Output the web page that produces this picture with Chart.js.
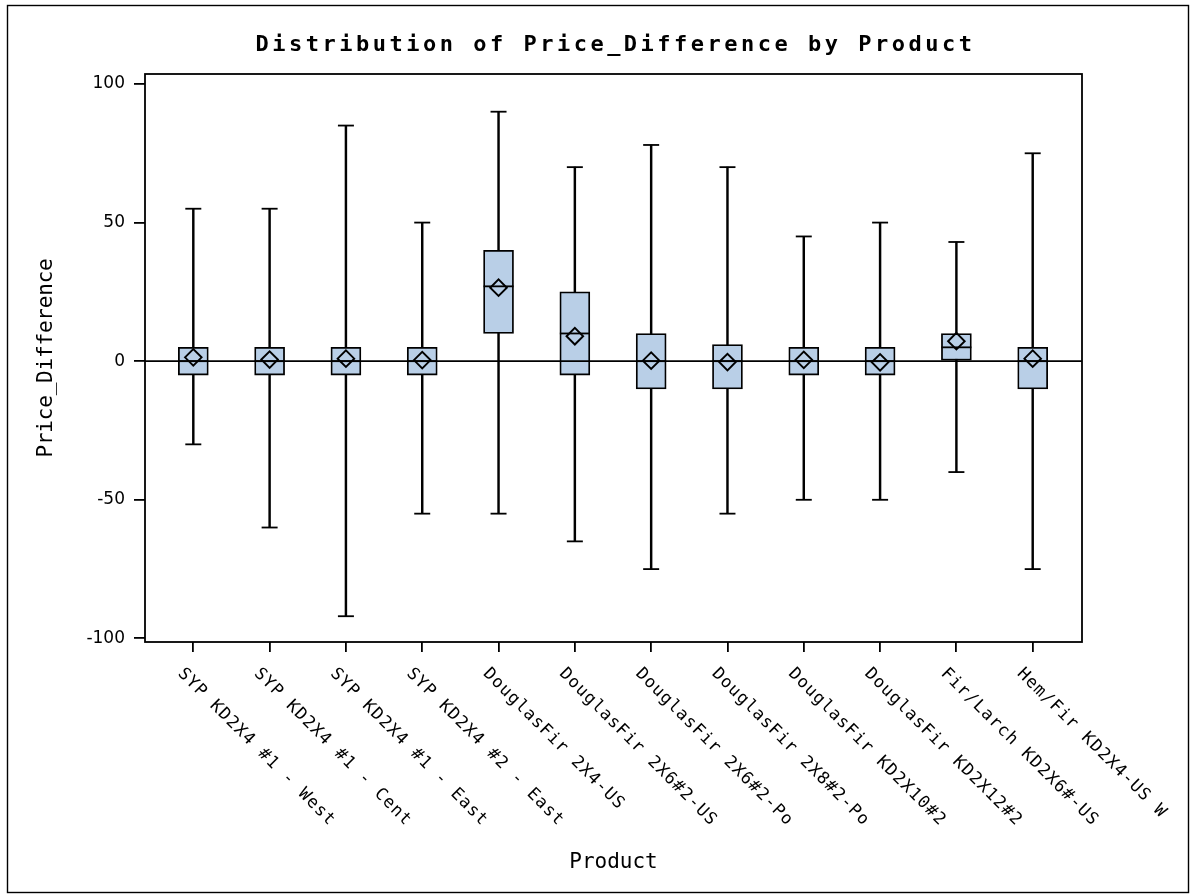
<!DOCTYPE html>
<html>
<head>
<meta charset="utf-8">
<script src="https://cdn.jsdelivr.net/npm/chart.js@4.4.1/dist/chart.umd.min.js"></script>
<style>
  html, body { margin: 0; padding: 0; background: #ffffff; }
  #wrap { position: relative; width: 1195px; height: 895px; }
</style>
</head>
<body>
<div id="wrap"><canvas id="c"></canvas></div>
<script>
// Box plot summary of Price_Difference for each product
const products = [
  'SYP KD2X4 #1 - West',
  'SYP KD2X4 #1 - Cent',
  'SYP KD2X4 #1 - East',
  'SYP KD2X4 #2 - East',
  'DouglasFir 2X4-US',
  'DouglasFir 2X6#2-US',
  'DouglasFir 2X6#2-Po',
  'DouglasFir 2X8#2-Po',
  'DouglasFir KD2X10#2',
  'DouglasFir KD2X12#2',
  'Fir/Larch KD2X6#-US',
  'Hem/Fir KD2X4-US W'
];
const whiskerLow  = [-30, -60, -92, -55, -55, -65, -75, -55, -50, -50, -40, -75];
const q1          = [ -5,  -5,  -5,  -5,  10,  -5, -10, -10,  -5,  -5,   0, -10];
const median      = [  0,   0,   0,   0,  27,  10,   0,   0,   0,   0,   5,   0];
const q3          = [  5,   5,   5,   5,  40,  25,  10,   6,   5,   5,  10,   5];
const whiskerHigh = [ 55,  55,  85,  50,  90,  70,  78,  70,  45,  50,  43,  75];
const means       = [1.4, 0.6, 0.9, 0.4, 26.5, 9.0, 0.2, -0.3, 0.5, -0.4, 7.2, 0.9];

const yTickValues = [-100, -50, 0, 50, 100];
const referenceValue = 0;

const titleText = 'Distribution of Price_Difference by Product';
const xTitle = 'Product';
const yTitle = 'Price_Difference';

const boxFill = 'rgb(185,207,231)';
const ink = '#000000';
const lw = 1.8;

const idx = products.map((_, i) => i);

const textPlugin = {
  id: 'sasText',
  afterDatasetsDraw(chart) {
    const { ctx, chartArea: a, scales } = chart;
    ctx.save();
    ctx.strokeStyle = ink;
    ctx.lineWidth = lw;
    // reference line at zero
    const y0 = scales.y.getPixelForValue(referenceValue);
    ctx.beginPath();
    ctx.moveTo(a.left, y0);
    ctx.lineTo(a.right, y0);
    ctx.stroke();
    // plot frame
    ctx.strokeRect(a.left, a.top, a.right - a.left, a.bottom - a.top);
    ctx.restore();
  },
  afterDraw(chart) {
    const { ctx, chartArea: a, scales } = chart;
    const cx = (a.left + a.right) / 2;
    const cy = (a.top + a.bottom) / 2;
    ctx.save();
    // page border
    ctx.strokeStyle = ink;
    ctx.lineWidth = 1.4;
    ctx.strokeRect(7.5, 5.5, 1181, 887);

    ctx.fillStyle = ink;
    // title
    ctx.font = 'bold 22px "DejaVu Sans Mono"';
    ctx.letterSpacing = '3.5px';
    ctx.textAlign = 'center';
    ctx.textBaseline = 'alphabetic';
    ctx.fillText(titleText, cx + 2, 51);

    // axis titles
    ctx.font = '21px "DejaVu Sans Mono"';
    ctx.letterSpacing = '0px';
    ctx.fillText(xTitle, cx, 868);
    ctx.save();
    ctx.translate(51.5, cy);
    ctx.rotate(-Math.PI / 2);
    ctx.letterSpacing = '-0.2px';
    ctx.fillText(yTitle, 0, 0);
    ctx.restore();

    // slanted category labels
    ctx.font = '17px "DejaVu Sans Mono"';
    ctx.letterSpacing = '1.1px';
    ctx.textAlign = 'left';
    ctx.textBaseline = 'middle';
    products.forEach((p, i) => {
      const x = scales.x.getPixelForValue(i);
      ctx.save();
      ctx.translate(x - 13, a.bottom + 29);
      ctx.rotate(Math.PI / 4);
      ctx.fillText(p, 0, 0);
      ctx.restore();
    });
    ctx.restore();
  }
};

new Chart(document.getElementById('c'), {
  type: 'bar',
  data: {
    datasets: [
      {
        label: 'whisker',
        type: 'bar',
        data: idx.map(i => ({ x: i, y: [whiskerLow[i], whiskerHigh[i]] })),
        backgroundColor: ink,
        borderWidth: 0,
        barThickness: lw,
        grouped: false,
        order: 6
      },
      {
        label: 'box',
        type: 'bar',
        data: idx.map(i => ({ x: i, y: [q1[i], q3[i]] })),
        backgroundColor: boxFill,
        borderColor: ink,
        borderWidth: lw,
        borderSkipped: false,
        barThickness: 30,
        grouped: false,
        order: 5
      },
      {
        label: 'cap high',
        type: 'scatter',
        data: idx.map(i => ({ x: i, y: whiskerHigh[i] })),
        pointStyle: 'line',
        pointRadius: 8,
        pointBorderColor: ink,
        pointBorderWidth: lw,
        showLine: false,
        order: 4
      },
      {
        label: 'cap low',
        type: 'scatter',
        data: idx.map(i => ({ x: i, y: whiskerLow[i] })),
        pointStyle: 'line',
        pointRadius: 8,
        pointBorderColor: ink,
        pointBorderWidth: lw,
        showLine: false,
        order: 4
      },
      {
        label: 'median',
        type: 'scatter',
        data: idx.map(i => ({ x: i, y: median[i] })),
        pointStyle: 'line',
        pointRadius: 15,
        pointBorderColor: ink,
        pointBorderWidth: lw,
        showLine: false,
        order: 3
      },
      {
        label: 'mean',
        type: 'scatter',
        data: idx.map(i => ({ x: i, y: means[i] })),
        pointStyle: 'rectRot',
        pointRadius: 8.3,
        pointBackgroundColor: 'rgba(0,0,0,0)',
        pointBorderColor: ink,
        pointBorderWidth: 1.9,
        showLine: false,
        order: 2
      }
    ]
  },
  options: {
    responsive: true,
    maintainAspectRatio: false,
    animation: false,
    events: [],
    layout: { padding: { left: 0, top: 74, right: 113, bottom: 253 } },
    plugins: {
      legend: { display: false },
      title: { display: false },
      tooltip: { enabled: false }
    },
    scales: {
      x: {
        type: 'linear',
        offset: false,
        min: -0.633,
        max: 11.646,
        border: { display: false },
        grid: {
          offset: false,
          drawOnChartArea: false,
          drawTicks: true,
          tickLength: 10,
          color: ink,
          lineWidth: lw
        },
        ticks: { display: false },
        afterBuildTicks(scale) {
          scale.ticks = idx.map(v => ({ value: v }));
        },
        afterFit(scale) { scale.height = 0; }
      },
      y: {
        type: 'linear',
        min: -101.3,
        max: 103.6,
        border: { display: false },
        grid: {
          drawOnChartArea: false,
          drawTicks: true,
          tickLength: 11,
          color: ink,
          lineWidth: lw
        },
        ticks: {
          color: ink,
          padding: 9,
          font: { family: 'DejaVu Sans', size: 17 },
          callback: v => String(v)
        },
        afterBuildTicks(scale) {
          scale.ticks = yTickValues.map(v => ({ value: v }));
        },
        afterFit(scale) { scale.width = 145; }
      }
    }
  },
  plugins: [textPlugin]
});
</script>
</body>
</html>
